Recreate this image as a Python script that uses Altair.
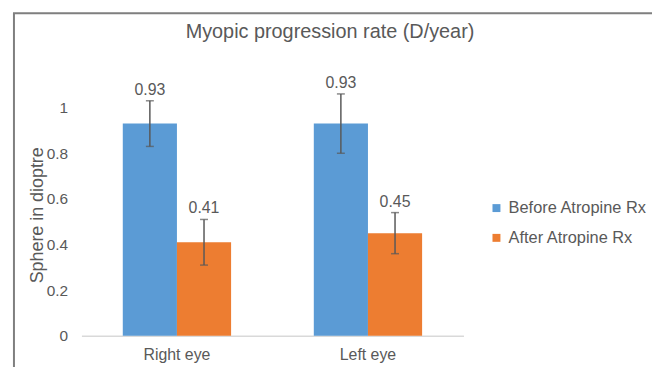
import altair as alt
import pandas as pd

categories = ["Right eye", "Right eye", "Left eye", "Left eye"]
series = ["Before Atropine Rx", "After Atropine Rx", "Before Atropine Rx", "After Atropine Rx"]
values = [0.93, 0.41, 0.93, 0.45]
errors = [0.10, 0.10, 0.13, 0.09]
labels = ["0.93", "0.41", "0.93", "0.45"]

df = pd.DataFrame({
    "eye": categories,
    "series": series,
    "value": values,
    "err": errors,
    "label": labels,
})
df["lo"] = df["value"] - df["err"]
df["hi"] = df["value"] + df["err"]

eye_order = ["Right eye", "Left eye"]
series_order = ["Before Atropine Rx", "After Atropine Rx"]
FONT = "Liberation Sans"
GRAY = "#595959"

x = alt.X("eye:N", sort=eye_order, title=None,
          scale=alt.Scale(paddingInner=0.433, paddingOuter=0.2165),
          axis=alt.Axis(labelAngle=0, labelFontSize=16, labelColor=GRAY, labelFont=FONT,
                        ticks=False, domainColor="#d9d9d9", domainWidth=1.5, labelPadding=11))
xo = alt.XOffset("series:N", sort=series_order, scale=alt.Scale(paddingInner=0, paddingOuter=0))
y = alt.Y("value:Q", title="Sphere in dioptre",
          scale=alt.Scale(domain=[0, 1.1], nice=False),
          axis=alt.Axis(values=[0, 0.2, 0.4, 0.6, 0.8, 1], format="~g", grid=False, domain=False,
                        ticks=False, labelFontSize=15.5, labelColor=GRAY, labelFont=FONT, labelPadding=14,
                        titleFontSize=18, titleColor=GRAY, titleFont=FONT, titleFontWeight="normal",
                        titleX=-35, titleY=131))

base = alt.Chart(df)

bars = base.mark_bar().encode(
    x=x, xOffset=xo, y=y,
    color=alt.Color("series:N", sort=series_order,
                    scale=alt.Scale(domain=series_order, range=["#5b9bd5", "#ed7d31"]),
                    legend=alt.Legend(title=None, orient="none", legendX=410, legendY=116,
                                      symbolType="square", symbolSize=64, labelFontSize=16.5,
                                      labelColor=GRAY, labelFont=FONT, rowPadding=13,
                                      symbolStrokeWidth=0, labelOffset=4)),
)

rules = base.mark_rule(color=GRAY, strokeWidth=1.5).encode(
    x=alt.X("eye:N", sort=eye_order), xOffset=xo, y="lo:Q", y2="hi:Q")
caps_hi = base.mark_tick(color=GRAY, thickness=1.5, size=8).encode(
    x=alt.X("eye:N", sort=eye_order), xOffset=xo, y="hi:Q")
caps_lo = base.mark_tick(color=GRAY, thickness=1.5, size=8).encode(
    x=alt.X("eye:N", sort=eye_order), xOffset=xo, y="lo:Q")
text = base.mark_text(baseline="bottom", dy=-3, fontSize=16, color=GRAY, font=FONT).encode(
    x=alt.X("eye:N", sort=eye_order), xOffset=xo, y="hi:Q", text="label:N")

frame = alt.Chart(pd.DataFrame({"f": [0]})).mark_rect(
    fill=None, stroke="#7f7f7f", strokeWidth=2
).encode(x=alt.value(-68), x2=alt.value(577), y=alt.value(-72), y2=alt.value(320))

chart = alt.layer(frame, bars, rules, caps_hi, caps_lo, text).properties(
    width=385, height=253,
    autosize=alt.AutoSizeParams(type="none"),
    padding={"left": 74, "top": 76, "right": 190, "bottom": 30},
    title=alt.TitleParams("Myopic progression rate (D/year)", fontSize=20, color=GRAY,
                          font=FONT, fontWeight="normal", anchor="middle", frame="group",
                          dx=58, offset=-30),
).configure_view(stroke=None)

chart.save("out.html", embed_options={"renderer": "svg", "actions": False})
